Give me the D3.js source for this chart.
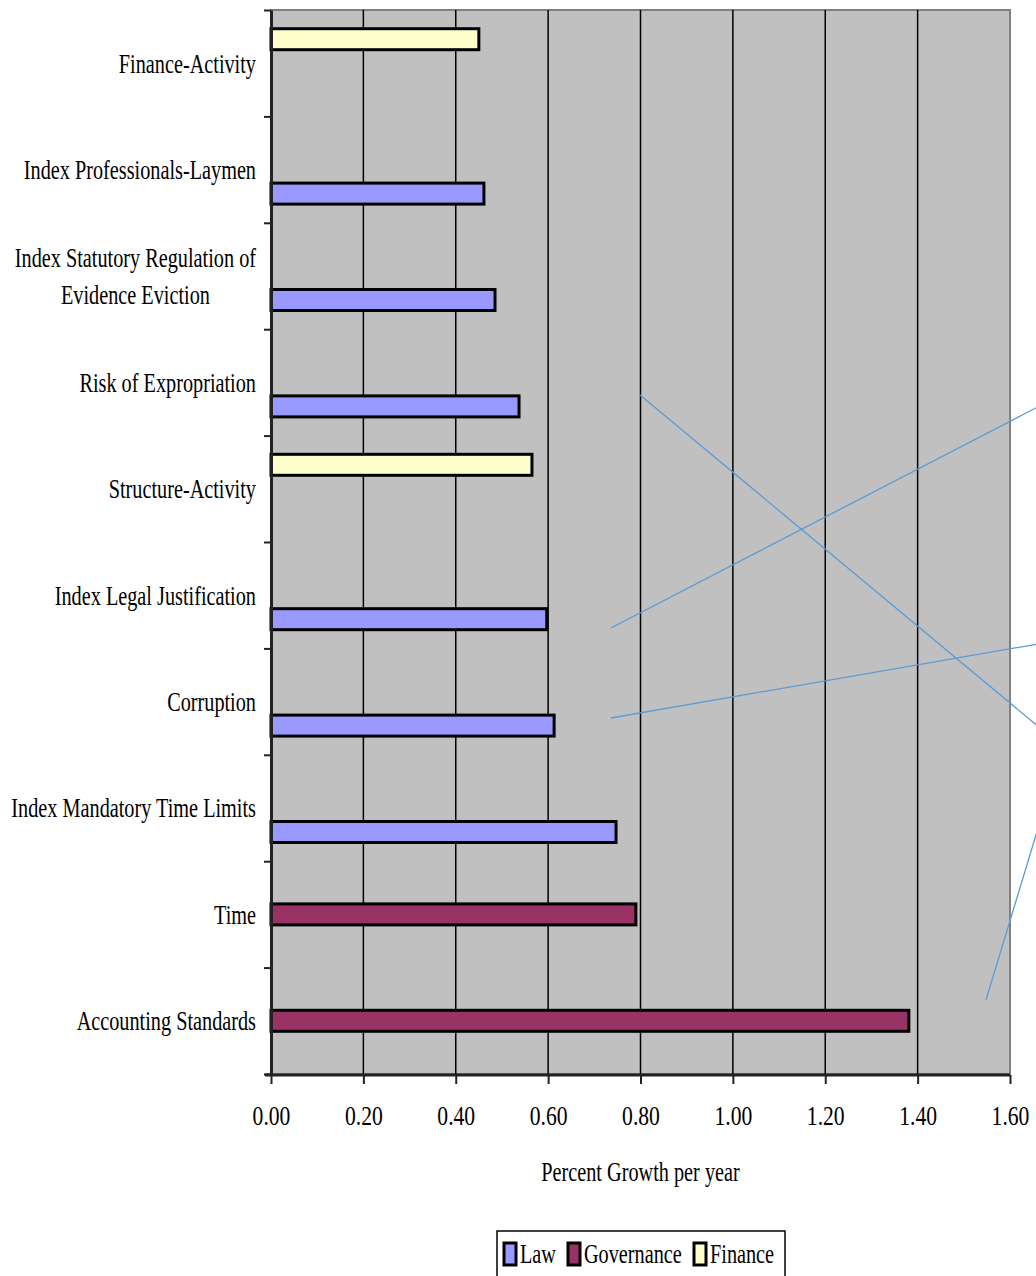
<!DOCTYPE html>
<html><head><meta charset="utf-8">
<script src="https://cdn.jsdelivr.net/npm/d3@7"></script>
<style>body{margin:0;background:#fff}svg{display:block}text{font-family:"Liberation Serif","Times New Roman",serif;fill:#000}</style>
</head><body><svg id="c" width="1036" height="1276"></svg>
<script>
const categories = ["Finance-Activity","Index Professionals-Laymen","Index Statutory Regulation of|Evidence Eviction","Risk of Expropriation","Structure-Activity","Index Legal Justification","Corruption","Index Mandatory Time Limits","Time","Accounting Standards"];
const seriesNames = ["Law","Governance","Finance"];
const lawValues        = [0, 0.461, 0.485, 0.537, 0, 0.597, 0.613, 0.747, 0, 0];
const governanceValues = [0, 0, 0, 0, 0, 0, 0, 0, 0.790, 1.381];
const financeValues    = [0.450, 0, 0, 0, 0.565, 0, 0, 0, 0, 0];
const xTicks = [0,0.2,0.4,0.6,0.8,1.0,1.2,1.4,1.6];
const colors = {Law:"#9999ff", Governance:"#993366", Finance:"#ffffcc"};
// stray annotation lines (x in value units, y in category-index units)
const strayLines = [[0.799,3.618,1.66,6.73],[0.736,5.808,1.66,3.731],[0.736,6.654,1.66,5.959],[1.548,9.305,1.66,7.70]];

const svg = d3.select("#c");
const L=271, R=1010, T=10, B=1074;
const FS = 27, SX = 0.75, SXN = 0.8;
const x = d3.scaleLinear().domain([0,1.6]).range([L,R]);
const y = d3.scaleBand().domain(categories).range([T,B]).padding(0);
const yLin = d3.scaleLinear().domain([0,categories.length]).range([T,B]);
const sub = d3.scaleBand().domain(["Finance","Governance","Law"]).range([0,y.bandwidth()]).paddingInner(0).paddingOuter(0.717);
const valuesBy = {Law:lawValues, Governance:governanceValues, Finance:financeValues};

svg.append("rect").attr("x",L).attr("y",T).attr("width",R-L).attr("height",B-T).attr("fill","#c0c0c0").attr("stroke","#808080").attr("stroke-width",2);
// grid
svg.append("g").selectAll("line").data(xTicks.slice(1,-1)).join("line")
  .attr("x1",d=>x(d)).attr("x2",d=>x(d)).attr("y1",T).attr("y2",B).attr("stroke","#000").attr("stroke-width",1.5);

// bars
const barData=[];
seriesNames.forEach(s=>valuesBy[s].forEach((v,i)=>{ if(v>0) barData.push({s,v,c:categories[i]}); }));
svg.append("g").selectAll("rect").data(barData).join("rect")
  .attr("x",x(0)).attr("y",d=>y(d.c)+sub(d.s)+1.5).attr("width",d=>x(d.v)-x(0)).attr("height",sub.bandwidth()-3)
  .attr("fill",d=>colors[d.s]).attr("stroke","#000").attr("stroke-width",3);

// axes
const xa = svg.append("g").attr("transform",`translate(0,${B+1})`).call(d3.axisBottom(x).tickValues(xTicks).tickFormat(d3.format(".2f")).tickSize(9).tickPadding(22).tickSizeOuter(0));
xa.select(".domain").attr("stroke","#222").attr("stroke-width",3).attr("d",`M${L-6},0H${R}`);
xa.selectAll(".tick line").attr("stroke","#222").attr("stroke-width",2);
xa.selectAll("text").attr("font-size",FS).attr("font-family","Liberation Serif").attr("fill","#000").attr("transform",`scale(${SXN},1)`);

const ya = svg.append("g").attr("transform",`translate(${L},0)`).call(d3.axisLeft(yLin).tickValues(d3.range(0,categories.length+1)).tickFormat("").tickSize(7).tickSizeOuter(0));
ya.select(".domain").attr("stroke","#222").attr("stroke-width",3);
ya.selectAll(".tick line").attr("stroke","#222").attr("stroke-width",2);

// category labels
categories.forEach(c=>{
  const lines=c.split("|");
  const cy=y(c)+y.bandwidth()/2;
  const g=svg.append("g").attr("transform",`translate(256,${cy}) scale(${SX},1)`);
  const ts = lines.map((ln,k)=>g.append("text").attr("y",(k-(lines.length-1)/2)*37).attr("dy","0.35em")
      .attr("text-anchor","end").attr("font-size",FS).text(ln));
  if(ts.length>1){
    const w=ts[0].node().getComputedTextLength();
    ts.slice(1).forEach(t=>t.attr("text-anchor","middle").attr("x",-w/2));
  }
});

// axis title
svg.append("text").attr("transform",`translate(${(L+R)/2},1172) scale(${SX},1)`).attr("text-anchor","middle").attr("dy","0.35em").attr("font-size",FS).text("Percent Growth per year");

// stray lines
svg.append("g").selectAll("line").data(strayLines).join("line")
  .attr("x1",d=>x(d[0])).attr("y1",d=>yLin(d[1])).attr("x2",d=>x(d[2])).attr("y2",d=>yLin(d[3]))
  .attr("stroke","#5b9bd5").attr("stroke-width",1.3);

// legend
const lg=svg.append("g").attr("transform","translate(497,1231)");
lg.append("rect").attr("width",288).attr("height",60).attr("fill","#fff").attr("stroke","#000").attr("stroke-width",1.5);
const legX=[7,71,197];
seriesNames.forEach((s,i)=>{
  lg.append("rect").attr("x",legX[i]).attr("y",12).attr("width",12).attr("height",22).attr("fill",colors[s]).attr("stroke","#000").attr("stroke-width",3);
  lg.append("text").attr("transform",`translate(${legX[i]+16},23) scale(${SX},1)`).attr("dy","0.35em").attr("font-size",FS).text(s);
});
</script></body></html>
